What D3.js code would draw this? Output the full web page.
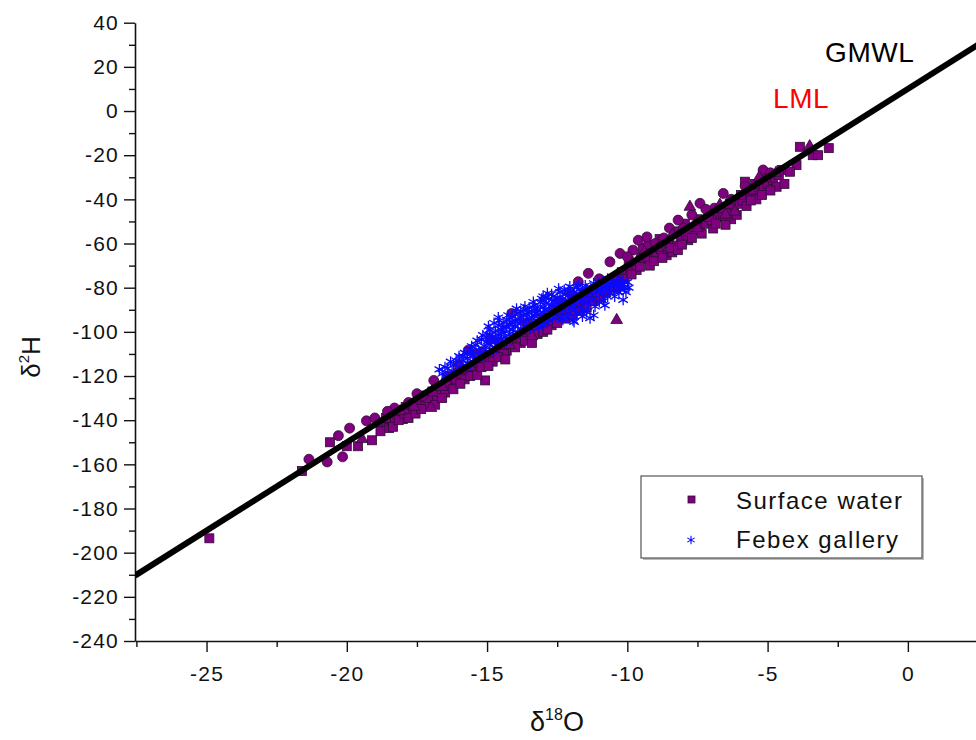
<!DOCTYPE html>
<html>
<head>
<meta charset="utf-8">
<script src="https://cdn.jsdelivr.net/npm/d3@7"></script>
<style>
  body { margin: 0; background: #fff; }
  svg { font-family: "Liberation Sans", Arial, sans-serif; }
</style>
</head>
<body>
<svg id="chart" width="976" height="740"></svg>
<script>
// surface water samples, by marker shape  [d18O, d2H]
const swSquares = [
  [-24.9,-193.5],[-21.6,-163],[-20.6,-150],[-20.0,-151.8],[-19.6,-151.8],[-19.1,-149.1],[-18.7,-142.3],[-18.5,-143.6],
  [-18.4,-140.5],[-18.2,-137],[-18.0,-139.5],[-17.9,-134],[-17.7,-136.5],[-17.5,-133],[-17.4,-131],[-17.2,-133.5],
  [-17.0,-128.5],[-16.9,-131],[-16.7,-126],[-16.5,-127.5],[-16.3,-124],[-16.1,-121.5],
  [-18.9,-141],[-18.8,-145],[-18.6,-139],[-18.35,-143],[-18.15,-140],[-17.95,-137],[-17.8,-139],[-17.65,-132.5],
  [-17.55,-137],[-17.35,-135],[-17.1,-130],[-16.95,-127],[-16.85,-133],[-16.6,-130],[-16.45,-123],[-16.2,-126],[-16.05,-118.5],
  [-15.9,-119],[-15.7,-117.5],[-15.5,-116],[-15.3,-114.5],[-15.1,-111],[-14.9,-112],[-14.7,-109.5],[-14.5,-107],
  [-14.3,-108.5],[-14.1,-104.5],[-13.9,-103],[-13.7,-101.5],[-13.5,-99],[-13.3,-99.5],[-13.1,-96.5],[-15.8,-121.5],
  [-15.4,-118],[-14.8,-113.5],[-14.4,-110],[-13.8,-105],[-13.2,-101],[-15.07,-122],
  [-15.95,-123.5],[-15.6,-120],[-15.35,-119.5],[-15.2,-116],[-14.95,-115.5],[-14.6,-111.5],[-14.35,-112.5],
  [-14.0,-107],[-13.65,-104],[-13.4,-105],[-13.0,-100],
  [-12.9,-95.5],[-12.6,-93.5],[-12.3,-92],[-12.1,-88],[-11.8,-87],[-11.5,-85.5],[-11.33,-84.1],[-11.1,-82],
  [-10.9,-80.5],[-10.6,-77],[-10.4,-76.5],[-10.2,-73],[-10.0,-72.5],[-12.7,-97],[-11.9,-90.5],
  [-12.85,-99],[-12.5,-96],[-12.2,-94],[-11.95,-92.5],[-11.7,-90.5],[-11.45,-89],[-11.2,-86],[-10.95,-84.5],
  [-10.75,-82],[-10.5,-80],[-10.3,-79.5],[-10.1,-76],
  [-9.9,-71],[-9.7,-69],[-9.67,-72],[-9.5,-66.5],[-9.3,-67],[-9.1,-63],[-8.96,-66],[-8.8,-62.5],[-8.6,-65.3],
  [-8.5,-60],[-8.3,-61],[-8.1,-57],[-7.9,-56],[-7.83,-58.5],[-7.6,-54],[-7.4,-52.5],[-7.2,-51],[-6.94,-53.2],
  [-6.8,-48],[-6.6,-47.5],[-6.4,-45],[-6.2,-43],[-6.0,-42],[-5.81,-32],[-5.7,-39],[-5.5,-37],[-5.3,-35.5],
  [-5.16,-35],[-5.0,-33],[-4.8,-31.3],[-4.68,-34.3],[-4.5,-26.7],[-3.97,-24.5],[-3.85,-16.2],[-3.39,-20],
  [-3.2,-20],[-9.2,-70],[-8.4,-64],[-7.0,-49.5],[-6.3,-49],[-5.9,-40.5],[-5.4,-40],[-2.82,-16.8],
  [-9.95,-68],[-9.85,-74],[-9.55,-70.5],[-9.45,-62],[-9.25,-60.5],[-9.05,-68],[-8.85,-58],[-8.75,-66.5],
  [-8.55,-58.5],[-8.45,-62],[-8.25,-54.5],[-8.2,-63],[-8.05,-60.5],[-7.95,-51],[-7.7,-57.5],[-7.5,-49],
  [-7.35,-55.5],[-7.1,-48],[-6.85,-51],[-6.65,-44],[-6.5,-51.5],[-6.35,-42],[-6.1,-47],[-5.95,-38],
  [-5.75,-43],[-5.6,-40.5],[-5.45,-33],[-5.2,-38],[-5.05,-30],[-4.9,-36],[-4.6,-29],[-4.4,-33],[-4.2,-27.5]
];
const swCircles = [
  [-21.35,-157.7],[-20.7,-158.9],[-20.15,-156.6],[-20.3,-147],[-19.9,-143.6],[-19.3,-140.3],
  [-18.3,-134.5],[-17.8,-132],[-17.3,-129],[-16.8,-124.5],[-16.4,-120],
  [-19.0,-139],[-18.55,-136],[-17.5,-128],[-16.9,-122],[-16.0,-115],[-15.4,-110],[-14.9,-103],
  [-15.67,-108.3],[-14.12,-91.7],[-15.2,-109],[-14.6,-104.5],[-13.6,-96],[-13.0,-93],
  [-12.4,-86],[-11.75,-77.3],[-11.39,-73.5],[-10.62,-68.3],[-10.26,-64.5],[-12.0,-83],[-11.0,-76],
  [-9.61,-58.5],[-9.0,-60],[-8.7,-57.5],[-8.19,-49.4],[-7.41,-41.8],[-6.58,-37.3],[-5.16,-26.7],
  [-8.0,-53],[-6.9,-44],[-9.8,-63],
  [-10.0,-66],[-9.3,-57],[-8.5,-53],[-7.7,-47],[-7.2,-44.5],[-6.3,-40],[-5.8,-34],[-4.9,-28]
];
const swTriangles = [
  [-19.45,-148.6],[-18.1,-136],[-17.6,-134],[-16.6,-125],[-15.6,-116],[-14.2,-106],[-13.4,-102],
  [-10.38,-94.7],[-12.2,-90],[-10.8,-78],[-7.77,-43.4],[-6.17,-45.6],[-8.4,-56],[-5.6,-36],
  [-9.4,-64],[-6.7,-42.5],[-5.3,-30],[-3.5,-16],
  [-17.0,-134.5],[-15.9,-117],[-11.6,-82.5],[-9.6,-67],[-8.9,-62],[-7.5,-53],[-6.5,-47],[-4.7,-28],[-12.6,-88]
];
// Febex gallery samples
const febex = [
  [-16.7,-117],[-16.5,-116],[-16.3,-113.5],[-16.2,-115],[-16.0,-111],[-15.9,-113],[-15.8,-109.5],[-15.7,-112],
  [-15.6,-108],[-15.5,-110.5],[-15.4,-106],[-15.3,-108.5],[-15.2,-103.5],[-15.1,-106.5],[-15.0,-101],[-15.0,-104.5],
  [-14.9,-99],[-14.9,-106],[-14.8,-102],[-14.7,-99.5],[-14.7,-104],[-14.6,-97],[-14.6,-101.5],[-14.5,-99],
  [-14.5,-103.5],[-14.4,-96],[-14.4,-100.5],[-14.3,-94.5],[-14.3,-98],[-14.2,-101],[-14.2,-96.5],[-14.1,-93],
  [-14.1,-99],[-14.0,-95],[-14.0,-97.5],[-13.9,-91.5],[-13.9,-96],[-13.8,-93.5],[-13.8,-98.5],[-13.7,-90],
  [-13.7,-95],[-13.6,-92],[-13.6,-97],[-13.5,-89],[-13.5,-94],[-13.4,-91],[-13.4,-96],[-13.3,-88],[-13.3,-93],
  [-13.2,-90],[-13.2,-95.5],[-13.1,-86.5],[-13.1,-92],[-13.0,-84],[-13.0,-89],[-13.0,-97],[-12.9,-87],[-12.9,-93],
  [-12.8,-85],[-12.8,-90],[-12.8,-95],[-12.7,-83],[-12.7,-88],[-12.6,-86],[-12.6,-92],[-12.5,-84.5],[-12.5,-89.5],
  [-12.4,-82],[-12.4,-87],[-12.4,-93],[-12.3,-85],[-12.3,-90],[-12.2,-83],[-12.2,-88],[-12.1,-81],[-12.1,-86],
  [-12.1,-91.5],[-12.0,-84],[-12.0,-89],[-11.9,-82],[-11.9,-87],[-11.94,-94.7],[-11.8,-80],[-11.8,-85],[-11.7,-83],
  [-11.7,-88.5],[-11.6,-81],[-11.6,-86],[-11.5,-79],[-11.5,-84],[-11.4,-82],[-11.4,-87],[-11.33,-93.8],[-11.3,-80],
  [-11.2,-78],[-11.2,-85],[-11.1,-82],[-11.0,-79],[-11.0,-86.5],[-10.9,-77],[-10.9,-83],[-10.8,-80],[-10.7,-76],
  [-10.7,-84],[-10.6,-79],[-10.5,-81.5],[-10.5,-77],[-10.4,-79],[-10.3,-76],[-10.3,-82],[-10.2,-78],[-10.1,-80],
  [-10.0,-77.5],
  [-16.6,-119],[-16.4,-116.5],[-16.1,-113],[-15.95,-116],[-15.85,-111],[-15.65,-114.5],[-15.55,-106.5],[-15.45,-112.5],
  [-15.35,-104],[-15.25,-110.5],[-15.15,-101.5],[-15.05,-108],[-14.95,-97.5],[-14.85,-104],[-14.75,-96],[-14.65,-106],
  [-14.55,-95],[-14.45,-98],[-14.35,-102.5],[-14.25,-92.5],[-14.15,-95.5],[-14.05,-101],[-13.95,-89.5],[-13.85,-94.5],
  [-13.75,-99.5],[-13.65,-88.5],[-13.55,-91],[-13.45,-98.5],[-13.35,-86.5],[-13.25,-91.5],[-13.15,-98],[-13.05,-85],
  [-12.95,-90],[-12.85,-82.5],[-12.75,-91.5],[-12.65,-84],[-12.55,-94],[-12.45,-80.5],[-12.35,-88.5],[-12.25,-81],
  [-12.15,-93.5],[-12.05,-79.5],[-11.95,-85.5],[-11.85,-90],[-11.75,-79],[-11.65,-84.5],[-11.55,-90.5],[-11.45,-80.5],
  [-11.35,-85.5],[-11.25,-81.5],[-11.15,-88.5],[-11.05,-77.5],[-10.95,-81],[-10.85,-86],[-10.75,-78.5],[-10.65,-82],
  [-10.55,-75.5],[-10.45,-84],[-10.35,-78],[-10.25,-80.5],[-10.15,-77],[-10.05,-82],[-11.9,-95.5],[-11.6,-93],
  [-11.2,-92.5],[-13.8,-91],[-14.6,-93.5],[-14.9,-101.5],[-15.6,-110],[-12.5,-86.5],[-12.9,-84.5],[-13.3,-89.5],
  [-13.7,-92.5],[-14.1,-96],[-14.5,-100.5],
  [-16.45,-120.5],[-16.25,-118],[-15.75,-115.5],[-15.3,-112],[-14.8,-108.5],[-14.3,-104.5],[-13.9,-100.5],
  [-13.4,-93.5],[-12.95,-95.5],[-12.3,-94.5],[-11.8,-91.5],[-11.45,-91],[-10.8,-88],[-10.15,-85.5],[-9.95,-80]
];
// GMWL end points: d2H = 8*d18O + 10
const gmwl = [[-27.55,-210.4],[2.5,30]];

const xMajor = [-25,-20,-15,-10,-5,0];
const xMinor = [-27.5,-22.5,-17.5,-12.5,-7.5,-2.5,2.5];
const yMajor = d3.range(-240, 41, 20);
const yMinor = d3.range(-230, 40, 20);

const svg = d3.select('#chart');
const mLeft = 135, mBottom = 641, mTop = 22.7;

const x = d3.scaleLinear().domain([-27.55, 2.5]).range([mLeft, 978]);
const y = d3.scaleLinear().domain([-240, 40]).range([mBottom, mTop]);

// axes
const yAxis = svg.append('g').attr('transform', `translate(${mLeft},0)`)
  .call(d3.axisLeft(y).tickValues(yMajor).tickSize(11).tickSizeOuter(0).tickPadding(5));
svg.append('g').attr('transform', `translate(${mLeft},0)`)
  .call(d3.axisLeft(y).tickValues(yMinor).tickSize(6).tickFormat(''))
  .select('.domain').remove();
const xAxis = svg.append('g').attr('transform', `translate(0,${mBottom})`)
  .call(d3.axisBottom(x).tickValues(xMajor).tickSize(11).tickSizeOuter(0).tickPadding(14));
svg.append('g').attr('transform', `translate(0,${mBottom})`)
  .call(d3.axisBottom(x).tickValues(xMinor).tickSize(6).tickFormat(''))
  .select('.domain').remove();

svg.selectAll('.domain').attr('stroke', '#111').attr('stroke-width', 1.6);
svg.selectAll('.tick line').attr('stroke', '#111').attr('stroke-width', 1.4);
svg.selectAll('.tick text').attr('font-size', 21).attr('fill', '#111').attr('letter-spacing', 1.2)
  .attr('font-family', '"Liberation Sans", Arial, sans-serif');
xAxis.selectAll('.tick text').text(d => String(d));
yAxis.selectAll('.tick text').text(d => String(d));

// clip for plot area
svg.append('clipPath').attr('id', 'plot')
  .append('rect').attr('x', mLeft).attr('y', 0).attr('width', 976 - mLeft).attr('height', mBottom);

const marks = svg.append('g').attr('clip-path', 'url(#plot)');
const purple = '#800080', edge = '#2a1030', blue = '#0a0aff';

marks.selectAll('rect.sq').data(swSquares).join('rect')
  .attr('class', 'sq')
  .attr('x', d => x(d[0]) - 4.5).attr('y', d => y(d[1]) - 4.5)
  .attr('width', 9).attr('height', 9)
  .attr('fill', purple).attr('stroke', edge).attr('stroke-width', 0.8);

marks.selectAll('circle.ci').data(swCircles).join('circle')
  .attr('class', 'ci')
  .attr('cx', d => x(d[0])).attr('cy', d => y(d[1])).attr('r', 5)
  .attr('fill', purple).attr('stroke', edge).attr('stroke-width', 0.8);

const tri = d3.symbol().type(d3.symbolTriangle).size(60);
marks.selectAll('path.tr').data(swTriangles).join('path')
  .attr('class', 'tr')
  .attr('transform', d => `translate(${x(d[0])},${y(d[1])})`)
  .attr('d', tri)
  .attr('fill', purple).attr('stroke', edge).attr('stroke-width', 0.8);

const star = d3.symbol().type(d3.symbolAsterisk).size(85);
marks.selectAll('path.fb').data(febex).join('path')
  .attr('class', 'fb')
  .attr('transform', d => `translate(${x(d[0])},${y(d[1])})`)
  .attr('d', star)
  .attr('fill', 'none').attr('stroke', blue).attr('stroke-width', 1.3);

// GMWL
marks.append('path')
  .datum(gmwl)
  .attr('d', d3.line().x(d => x(d[0])).y(d => y(d[1])))
  .attr('stroke', '#000').attr('stroke-width', 6).attr('fill', 'none');

// line labels
svg.append('text').attr('x', 825).attr('y', 62).attr('font-size', 28).attr('letter-spacing', 0.6)
  .attr('fill', '#000').text('GMWL');
svg.append('text').attr('x', 773).attr('y', 108).attr('font-size', 28).attr('letter-spacing', 0.6)
  .attr('fill', '#ff0000').text('LML');

// axis titles
const xt = svg.append('text').attr('x', 557).attr('y', 731).attr('text-anchor', 'middle').attr('fill', '#111');
xt.append('tspan').attr('font-size', 27).text('δ');
xt.append('tspan').attr('font-size', 16).attr('dy', -11).text('18');
xt.append('tspan').attr('font-size', 27).attr('dy', 11).text('O');

const yt = svg.append('text').attr('transform', 'translate(40,357) rotate(-90)')
  .attr('text-anchor', 'middle').attr('fill', '#111');
yt.append('tspan').attr('font-size', 26).text('δ');
yt.append('tspan').attr('font-size', 15).attr('dy', -11).text('2');
yt.append('tspan').attr('font-size', 26).attr('dy', 11).text('H');

// legend
const lg = svg.append('g');
lg.append('rect').attr('x', 643).attr('y', 478).attr('width', 281).attr('height', 82).attr('fill', '#bbb');
lg.append('rect').attr('x', 641).attr('y', 476).attr('width', 281).attr('height', 82)
  .attr('fill', '#fff').attr('stroke', '#555').attr('stroke-width', 1.2);
lg.append('rect').attr('x', 688).attr('y', 496).attr('width', 7).attr('height', 7)
  .attr('fill', purple).attr('stroke', edge).attr('stroke-width', 0.8);
lg.append('path').attr('transform', 'translate(691,540)').attr('d', d3.symbol().type(d3.symbolAsterisk).size(50)())
  .attr('fill', 'none').attr('stroke', blue).attr('stroke-width', 1.1);
lg.append('text').attr('x', 736).attr('y', 509).attr('font-size', 24).attr('letter-spacing', 1.5)
  .attr('fill', '#111').text('Surface water');
lg.append('text').attr('x', 736).attr('y', 548).attr('font-size', 24).attr('letter-spacing', 1.5)
  .attr('fill', '#111').text('Febex gallery');
</script>
</body>
</html>
